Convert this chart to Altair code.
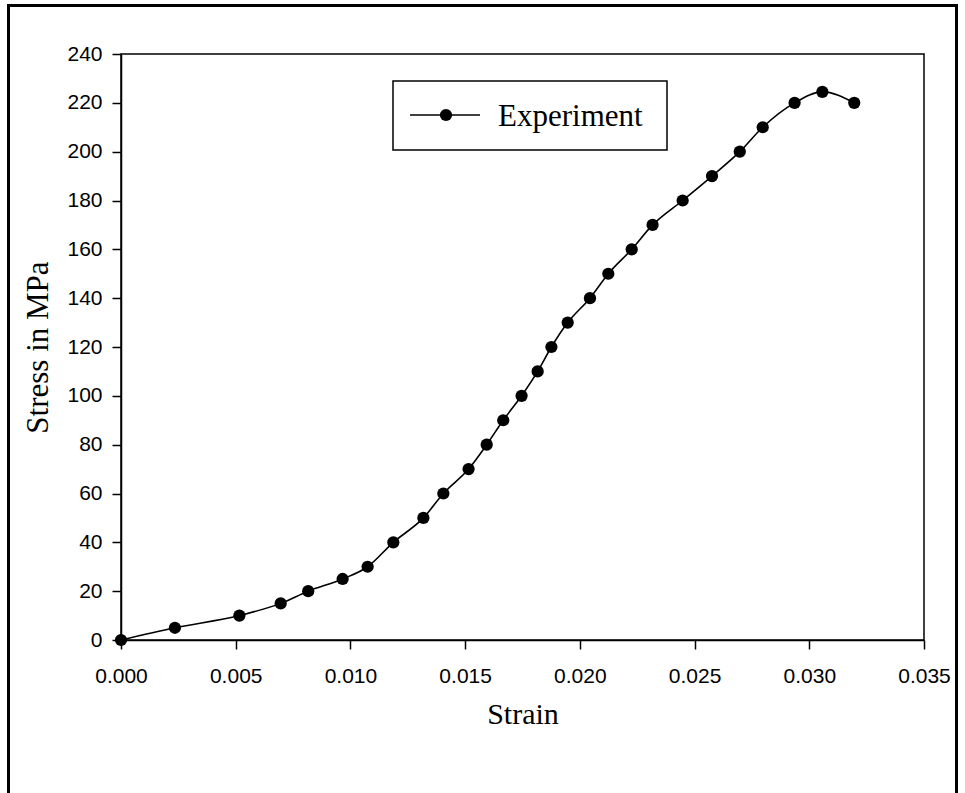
import altair as alt
import pandas as pd

# Measured stress-strain points
strain = [0.0, 0.00235, 0.00516, 0.00696, 0.00816, 0.00966, 0.01075, 0.01187,
          0.01318, 0.01405, 0.01515, 0.01594, 0.01666, 0.01746, 0.01816, 0.01876,
          0.01947, 0.02044, 0.02124, 0.02226, 0.02317, 0.02448, 0.02576, 0.02697,
          0.02797, 0.02936, 0.03057, 0.03196]
stress = [0, 5, 10, 15, 20, 25, 30, 40, 50, 60, 70, 80, 90, 100, 110, 120,
          130, 140, 150, 160, 170, 180, 190, 200, 210, 220, 224.5, 220]

x_ticks = [0.0, 0.005, 0.010, 0.015, 0.020, 0.025, 0.030, 0.035]
y_ticks = [0, 20, 40, 60, 80, 100, 120, 140, 160, 180, 200, 220, 240]
series_name = ["Experiment"]

df = pd.DataFrame({"strain": strain, "stress": stress})
legend_df = pd.DataFrame({"series": series_name})

SANS = "Liberation Sans"
SERIF = "Liberation Serif"

x_enc = alt.X(
    "strain:Q",
    scale=alt.Scale(domain=[0, 0.035], nice=False, zero=False),
    axis=alt.Axis(
        values=x_ticks, format=".3f", title="Strain",
        labelFlush=False, labelOverlap=False,
        labelBaseline="alphabetic", labelPadding=33,
        titleX=401.5, titleY=83, titleBaseline="alphabetic", titleAlign="center",
    ),
)
y_enc = alt.Y(
    "stress:Q",
    scale=alt.Scale(domain=[0, 240], nice=False),
    axis=alt.Axis(
        values=y_ticks, title="Stress in MPa", labelPadding=10,
        labelFlush=False, labelOverlap=False,
        titleX=-74, titleY=293, titleAngle=270, titleBaseline="alphabetic",
        titleAlign="center", titleFontSize=31,
    ),
)

line = alt.Chart(df).mark_line(
    color="black", strokeWidth=1.6, interpolate="monotone"
).encode(x=x_enc, y=y_enc)

points = alt.Chart(df).mark_circle(
    color="black", size=150, opacity=1
).encode(x="strain:Q", y="stress:Q")

# Legend drawn inside the plot: framed box, sample line, marker and label
leg_box = alt.Chart(legend_df).mark_rect(
    fill="white", stroke="black", strokeWidth=1.5
).encode(x=alt.value(272), x2=alt.value(546), y=alt.value(27), y2=alt.value(96))

leg_line = alt.Chart(legend_df).mark_rule(
    color="black", strokeWidth=1.6
).encode(x=alt.value(289), x2=alt.value(359), y=alt.value(61))

leg_dot = alt.Chart(legend_df).mark_circle(
    color="black", size=150, opacity=1
).encode(x=alt.value(325), y=alt.value(61))

leg_text = alt.Chart(legend_df).mark_text(
    font=SERIF, fontSize=31, align="left", baseline="alphabetic", color="black"
).encode(x=alt.value(377), y=alt.value(72), text="series:N")

# Outer frame around the whole figure
frame = alt.Chart(legend_df).mark_rect(
    fill=None, stroke="black", strokeWidth=3
).encode(x=alt.value(-112.5), x2=alt.value(835.5), y=alt.value(-48.5), y2=alt.value(760))

chart = alt.layer(
    frame, line, points, leg_box, leg_line, leg_dot, leg_text
).properties(
    width=803, height=586,
    autosize=alt.AutoSizeParams(type="none"),
    padding={"left": 121, "top": 54, "right": 41, "bottom": 153},
    background="white",
).configure_view(
    stroke="black", strokeWidth=1.5
).configure_axis(
    grid=False,
    domainColor="black", domainWidth=1.5,
    tickColor="black", tickWidth=1.5, tickSize=9,
    labelFont=SANS, labelFontSize=21, labelColor="black",
    titleFont=SERIF, titleFontSize=30, titleFontWeight="normal", titleColor="black",
)

chart.save("out.html", embed_options={"renderer": "svg", "actions": False})
